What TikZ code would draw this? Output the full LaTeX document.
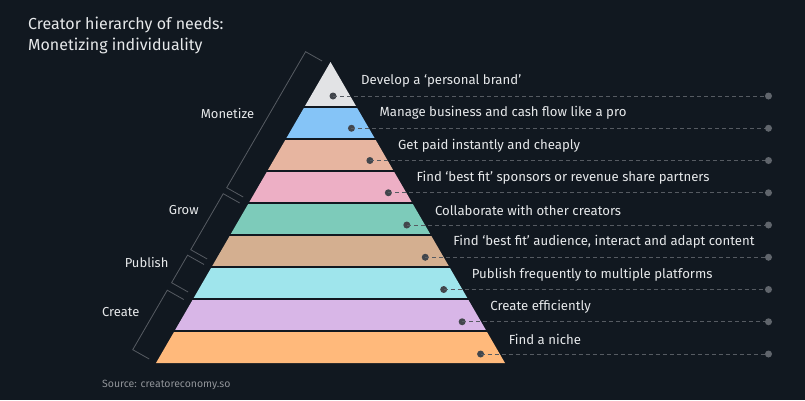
\documentclass[tikz,border=0pt]{standalone}
\usepackage{fontspec}
\setmainfont{Fira Sans}
\usepackage{tikz}
\usetikzlibrary{positioning}
\definecolor{bg}{HTML}{111820}
\definecolor{txt}{HTML}{E6E8EA}
\definecolor{guide}{HTML}{565B62}
\definecolor{dotin}{HTML}{42464C}
\definecolor{dotout}{HTML}{60656C}
\definecolor{bandA}{HTML}{E2E3E5}
\definecolor{bandB}{HTML}{85C4F7}
\definecolor{bandC}{HTML}{E7B5A0}
\definecolor{bandD}{HTML}{EDAFC5}
\definecolor{bandE}{HTML}{7DCBBA}
\definecolor{bandF}{HTML}{D4AF90}
\definecolor{bandG}{HTML}{9FE5EC}
\definecolor{bandH}{HTML}{D8B6E7}
\definecolor{bandI}{HTML}{FFB97B}
\tikzset{
  dotL/.style={circle, fill=dotin, inner sep=0pt, minimum size=7pt},
  dotR/.style={circle, fill=dotout, inner sep=0pt, minimum size=7pt},
  need/.style={anchor=west, text=txt, font=\fontsize{13.2}{15}\selectfont, inner sep=0pt},
  tier/.style={anchor=east, text=txt, font=\fontsize{13}{15}\selectfont, inner sep=0pt},
  heading/.style={anchor=base west, text=txt, font=\fontsize{16}{20}\selectfont, inner sep=0pt},
  guideline/.style={guide, dash pattern=on 4pt off 3pt, line width=0.8pt},
  bracket/.style={guide, line width=0.8pt}
}
\begin{document}
\begin{tikzpicture}[x=1pt, y=-1pt]
\fill[bg] (0,0) rectangle (805,400);
\useasboundingbox (0,0) rectangle (805,400);

% title and source
\node[heading] (title1) at (28,29) {Creator hierarchy of needs:};
\node[heading] (title2) at (28,50) {Monetizing individuality};
\node[anchor=west, text=guide!60!txt, inner sep=0pt,
  font=\fontsize{10.5}{12}\selectfont] (source) at (102,384.5)
  {Source: creatoreconomy.so};

% pyramid bands
\foreach \t/\b/\c in {62/105.5/bandA, 108/137/bandB, 140/169/bandC,
    172/201/bandD, 204/233/bandE, 236/265/bandF, 268/297/bandG,
    300/329/bandH, 332/363/bandI}
{
  \begin{scope}
    \clip (0,\t) rectangle (805,\b);
    \fill[\c] (330.5,62) -- (505,363) -- (156,363) -- cycle;
  \end{scope}
}

% needs
\foreach \i/\txt in {0/Develop a ‘personal brand’,
    1/Manage business and cash flow like a pro,
    2/Get paid instantly and cheaply,
    3/Find ‘best fit’ sponsors or revenue share partners,
    4/Collaborate with other creators,
    5/{Find ‘best fit’ audience, interact and adapt content},
    6/Publish frequently to multiple platforms,
    7/Create efficiently,
    8/Find a niche}
{
  \pgfmathsetmacro{\dx}{333+18.45*\i}
  \pgfmathsetmacro{\dy}{96+32.25*\i}
  \node[dotL] (l\i) at (\dx,\dy) {};
  \node[dotR] (r\i) at (768.5,\dy) {};
  \draw[guideline] (l\i.center) -- (r\i.west);
  \node[need] (n\i) at (\dx+28,\dy-15) {\txt};
}

% tiers
\foreach \ya/\yb/\ly/\name in {61/197/114/Monetize, 203/259/210/Grow,
    264.5/292/262/Publish, 299.5/359/312/Create}
{
  \pgfmathsetmacro{\xa}{321.5-(\ya-62)*0.58}
  \pgfmathsetmacro{\xb}{321.5-(\yb-62)*0.58}
  \draw[bracket] (\xa,\ya) -- (\xa-16.5,\ya-9.3) -- (\xb-16.5,\yb-9.3) -- (\xb,\yb);
  \pgfmathsetmacro{\lx}{305-(\ly-52.7)*0.58-15}
  \node[tier] (\name) at (\lx,\ly) {\name};
}
\end{tikzpicture}
\end{document}
